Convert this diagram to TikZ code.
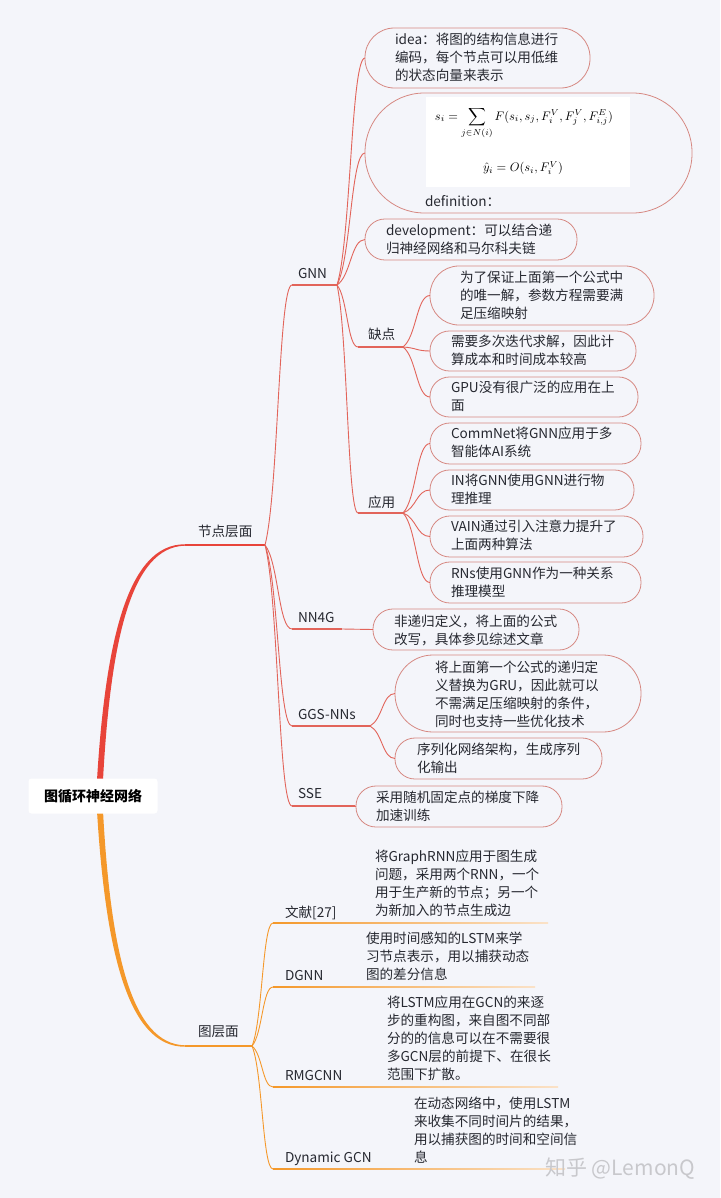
\documentclass[tikz,border=0pt]{standalone}
\usepackage{fontspec}
\usepackage{graphicx}
\setmainfont{Noto Sans CJK SC}
\usetikzlibrary{calc}
\definecolor{bg}{RGB}{244,245,250}
\definecolor{ink}{RGB}{38,40,48}
\definecolor{redA}{RGB}{232,68,58}
\definecolor{redB}{RGB}{226,100,90}
\definecolor{pillc}{RGB}{214,136,130}
\definecolor{orA}{RGB}{244,152,42}
\definecolor{orB}{RGB}{247,185,115}
\definecolor{orC}{RGB}{250,226,200}
\definecolor{wm}{RGB}{200,200,204}
\newcommand\fs{\fontsize{13.6}{18}\selectfont}
\newcommand\tl[1]{\parbox[t]{300pt}{#1}}
\newcommand\pillbox[5]{%
 \pgfmathsetmacro\pw{#4-#2}%
 \pgfmathsetmacro\ph{#5-#3}%
 \pgfmathsetmacro\pr{\ph/2-0.6}%
 \pgfmathsetmacro\pcx{(#2+#4)/2}%
 \pgfmathsetmacro\pcy{(#3+#5)/2}%
 \node[pill, minimum width=\pw pt, minimum height=\ph pt, rounded corners=\pr pt] (#1) at (\pcx,\pcy) {};}
\tikzset{
 txt/.style={anchor=base west, inner sep=0pt, outer sep=0pt, text=ink, font=\fs},
 pill/.style={draw=pillc, line width=0.8pt, inner sep=0pt, outer sep=0pt},
 conn/.style={draw=redB, line width=0.9pt},
 oconn/.style={draw=orA, line width=0.9pt},
 ul/.style={draw=redB, line width=1.2pt},
 br/.style={to path={let \p1=(\tikztostart), \p2=(\tikztotarget) in
   .. controls ({\x1+0.5*(\x2-(\x1))},{\y1+0.2*(\y2-(\y1))}) and ({\x1+0.5*(\x2-(\x1))},{\y2}) .. (\tikztotarget)}},
 rootbox/.style={fill=white, rounded corners=3pt, minimum width=129pt, minimum height=35pt, inner sep=0pt, text=black, font=\fontsize{14}{16}\selectfont\bfseries},
}
\begin{document}
\begin{tikzpicture}[x=1pt,y=-1pt]
\fill[bg] (0,0) rectangle (720,1198);
\useasboundingbox (0,0) rectangle (720,1198);

% junction coordinates
\coordinate (nlS) at (185,545); \coordinate (J1) at (265,545);
\coordinate (glS) at (185,1046); \coordinate (J2) at (252,1046);
\coordinate (gnnS) at (292,285); \coordinate (Jg) at (337,285);
\coordinate (qS) at (358,347); \coordinate (Jq) at (403,347);
\coordinate (yS) at (358,513); \coordinate (Jy) at (403,513);
\coordinate (nnS) at (292,629); \coordinate (Jn) at (342,629);
\coordinate (ggS) at (292,726); \coordinate (Jgg) at (370,726);
\coordinate (sseS) at (292,806); \coordinate (Js) at (355,806);
\coordinate (l1S) at (273,923); \coordinate (l1E) at (548,923);
\coordinate (l2S) at (273,987); \coordinate (l2E) at (535,987);
\coordinate (l3S) at (273,1087); \coordinate (l3E) at (558,1087);
\coordinate (l4S) at (273,1169); \coordinate (l4E) at (565,1169);

% main tapered branches
\fill[redA] (97,780) .. controls (105.5,640) and (128,543.8) .. (185,544.3)
  -- (185,545.7) .. controls (131,546.8) and (110.5,641) .. (103,780) -- cycle;
\fill[orA] (97,811) .. controls (105.5,951) and (128,1047.2) .. (185,1046.7)
  -- (185,1045.3) .. controls (131,1044.2) and (110.5,950) .. (103,811) -- cycle;
\draw[redA, line width=1.3pt] (nlS) -- (J1);
\draw[orA, line width=1.3pt] (glS) -- (J2);

% boxes
\pillbox{bidea}{365}{28}{590}{88}
\pillbox{bform}{365}{93}{692}{213}
\pillbox{bdev}{365}{219}{577}{260}
\pillbox{bq1}{430}{266}{654}{325}
\pillbox{bq2}{430}{331}{636}{371}
\pillbox{bq3}{430}{377}{638}{417}
\pillbox{by1}{430}{423}{641}{464}
\pillbox{by2}{430}{470}{634}{510}
\pillbox{by3}{430}{516}{643}{557}
\pillbox{by4}{430}{562}{641}{603}
\pillbox{bnn}{373}{609}{579}{650}
\pillbox{bgg1}{395}{655}{641}{732}
\pillbox{bgg2}{395}{738}{602}{779}
\pillbox{bsse}{356}{786}{562}{827}

% connectors, node level
\draw[conn] (J1) to[br] (gnnS);
\draw[conn] (J1) to[br] (nnS);
\draw[conn] (J1) to[br] (ggS);
\draw[conn] (J1) to[br] (sseS);
\draw[ul] (gnnS) -- (Jg);
\draw[ul] (nnS) -- (Jn);
\draw[ul] (ggS) -- (Jgg);
\draw[ul] (sseS) -- (Js);
\draw[conn] (Jg) to[br] (bidea.west);
\draw[conn] (Jg) to[br] (bform.west);
\draw[conn] (Jg) to[br] (bdev.west);
\draw[conn] (Jg) to[br] (qS);
\draw[conn] (Jg) to[br] (yS);
\draw[ul] (qS) -- (Jq);
\draw[ul] (yS) -- (Jy);
\draw[conn] (Jq) to[br] (bq1.west);
\draw[conn] (Jq) to[br] (bq2.west);
\draw[conn] (Jq) to[br] (bq3.west);
\draw[conn] (Jy) to[br] (by1.west);
\draw[conn] (Jy) to[br] (by2.west);
\draw[conn] (Jy) to[br] (by3.west);
\draw[conn] (Jy) to[br] (by4.west);
\draw[conn] (Jn) to[br] (bnn.west);
\draw[conn] (Jgg) to[br] (bgg1.west);
\draw[conn] (Jgg) to[br] (bgg2.west);
\draw[conn] (Js) -- (bsse.west);

% connectors, graph level
\draw[oconn] (J2) to[br] (l1S);
\draw[oconn] (J2) to[br] (l2S);
\draw[oconn] (J2) to[br] (l3S);
\draw[oconn] (J2) to[br] (l4S);
\shade[left color=orA, right color=orC] (273,922.3) rectangle (548,923.7);
\shade[left color=orA, right color=orC] (273,986.3) rectangle (535,987.7);
\shade[left color=orA, right color=orC] (273,1086.3) rectangle (558,1087.7);
\shade[left color=orA, right color=orC] (273,1168.3) rectangle (565,1169.7);

% formula
\fill[white] (426,97) rectangle (630,187);
\node[inner sep=0pt] (f1) at (524,123) {\resizebox{178pt}{!}{$\displaystyle s_i=\sum_{j\in N(i)}F(s_i,s_j,F_i^V,F_j^V,F_{i,j}^E)$}};
\node[inner sep=0pt] (f2) at (523,168) {\resizebox{80pt}{!}{$\hat{y}_i=O(s_i,F_i^V)$}};

% labels
\node[txt] (nl) at (198,536) {节点层面};
\node[txt] (gl) at (198,1036) {图层面};
\node[txt] (gnn) at (298,278) {GNN};
\node[txt] (que) at (368,339) {缺点};
\node[txt] (ying) at (368,507) {应用};
\node[txt] (nn4g) at (298,622) {NN4G};
\node[txt] (ggs) at (298,719) {GGS-NNs};
\node[txt] (sse) at (298,798) {SSE};
\node[txt] (wx) at (285,917) {文献[27]};
\node[txt] (dgnn) at (285,980) {DGNN};
\node[txt] (rmg) at (285,1080) {RMGCNN};
\node[txt] (dyn) at (285,1162) {Dynamic GCN};

% texts
\node[txt] (tidea) at (395,45) {\tl{idea：将图的结构信息进行\\编码，每个节点可以用低维\\的状态向量来表示}};
\node[txt] (tdef) at (425,207) {definition：};
\node[txt] (tdev) at (386,236) {\tl{development：可以结合递\\归神经网络和马尔科夫链}};
\node[txt] (tq1) at (460,282) {\tl{为了保证上面第一个公式中\\的唯一解，参数方程需要满\\足压缩映射}};
\node[txt] (tq2) at (451,346) {\tl{需要多次迭代求解，因此计\\算成本和时间成本较高}};
\node[txt] (tq3) at (451,392) {\tl{GPU没有很广泛的应用在上\\面}};
\node[txt] (ty1) at (451,438) {\tl{CommNet将GNN应用于多\\智能体AI系统}};
\node[txt] (ty2) at (451,485) {\tl{IN将GNN使用GNN进行物\\理推理}};
\node[txt] (ty3) at (451,531) {\tl{VAIN通过引入注意力提升了\\上面两种算法}};
\node[txt] (ty4) at (451,578) {\tl{RNs使用GNN作为一种关系\\推理模型}};
\node[txt] (tnn) at (394,626) {\tl{非递归定义，将上面的公式\\改写，具体参见综述文章}};
\node[txt] (tgg1) at (435,672) {\tl{将上面第一个公式的递归定\\义替换为GRU，因此就可以\\不需满足压缩映射的条件，\\同时也支持一些优化技术}};
\node[txt] (tgg2) at (417,754) {\tl{序列化网络架构，生成序列\\化输出}};
\node[txt] (tsse) at (376,802) {\tl{采用随机固定点的梯度下降\\加速训练}};
\node[txt] (tl1) at (375,861) {\tl{将GraphRNN应用于图生成\\问题，采用两个RNN，一个\\用于生产新的节点；另一个\\为新加入的节点生成边}};
\node[txt] (tl2) at (366,943) {\tl{使用时间感知的LSTM来学\\习节点表示，用以捕获动态\\图的差分信息}};
\node[txt] (tl3) at (387,1007) {\tl{将LSTM应用在GCN的来逐\\步的重构图，来自图不同部\\分的的信息可以在不需要很\\多GCN层的前提下、在很长\\范围下扩散。}};
\node[txt] (tl4) at (414,1108) {\tl{在动态网络中，使用LSTM\\来收集不同时间片的结果，\\用以捕获图的时间和空间信\\息}};

% root
\node[rootbox] (root) at (93,796) {图循环神经网络};

% watermark
\node[anchor=base west, inner sep=0pt, text=wm, font=\fontsize{21}{24}\selectfont] (wmk) at (545,1175) {知乎 @LemonQ};
\end{tikzpicture}
\end{document}
